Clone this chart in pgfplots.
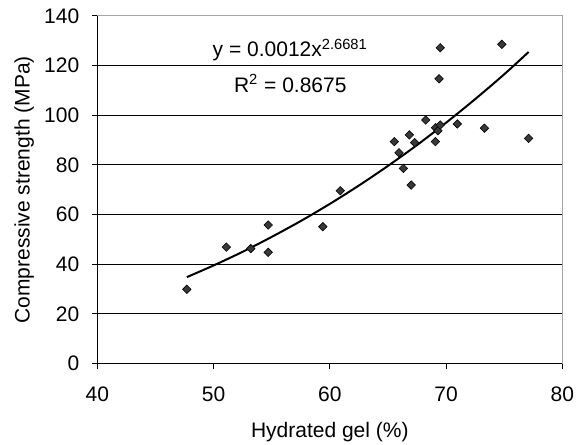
\documentclass[border=0pt]{standalone}
\usepackage{fontspec}
\setmainfont{Liberation Sans}
\usepackage{pgfplots}
\pgfplotsset{compat=1.18}
\usetikzlibrary{calc}
\newcommand{\chartfont}{\fontsize{10.5}{12.6}\selectfont}

\begin{document}
\begin{tikzpicture}
\begin{axis}[
  scale only axis,
  width=232.5pt, height=173.75pt,
  xmin=40, xmax=80, ymin=0, ymax=140,
  xtick={40,50,60,70,80},
  ytick={0,20,40,60,80,100,120,140},
  tick pos=left, tick align=outside,
  major tick length=2.5pt,
  tick style={black, line width=0.5pt},
  axis line style={gray!70, line width=0.5pt},
  ymajorgrids,
  grid style={black, line width=0.5pt},
  /pgf/number format/assume math mode=true,
  tick label style={font=\chartfont},
  xticklabel style={yshift=-5.5pt},
  yticklabel style={xshift=-3pt},
  label style={font=\chartfont},
  xlabel={Hydrated gel (\%)},
  ylabel={Compressive strength (MPa)},
  xlabel style={at={(axis description cs:0.5,-0.2115)}, anchor=base},
  ylabel style={at={(axis description cs:-0.157,0.5)}, anchor=center},
  clip=false,
]
% measured points
\addplot[only marks, mark=square*, mark size=1.5pt,
  mark options={rotate=45, fill=black!78, draw=black, line width=0.3pt}]
  coordinates {
  (47.7,29.9) (51.1,46.9) (53.2,46.3) (54.7,55.8) (54.7,44.8)
  (59.4,55.1) (60.9,69.6) (65.55,89.4) (65.95,84.9) (66.33,78.6)
  (66.84,92.1) (67.0,71.9) (67.3,89.0) (68.25,98.1) (69.08,89.4)
  (69.1,95.0) (69.3,93.8) (69.5,96.1) (69.4,114.7) (69.5,127.2)
  (70.97,96.5) (73.3,94.8) (74.8,128.6) (77.1,90.7)
};
% power trend line
\addplot[black, line width=1pt, smooth] coordinates {
  (47.7,34.8) (50,39.5) (52.5,45.0) (55,51.0) (57.5,57.4) (60,64.3)
  (62.5,71.7) (65,79.6) (67.5,88.0) (70,97.0) (72.5,106.5) (75,116.5) (77.1,125.5)
};
\draw[black, line width=0.5pt] (axis cs:40,140) -- (axis cs:40,0) -- (axis cs:80,0);
\node[anchor=base, font=\chartfont] at (axis cs:56.6,123.5) {y = 0.0012x\textsuperscript{2.6681}};
\node[anchor=base, font=\chartfont] at (axis cs:56.6,109.1) {R\textsuperscript{2} = 0.8675};
\end{axis}
\pgfresetboundingbox
\path[use as bounding box] ($(current axis.south west)+(-48.65pt,-40.25pt)$)
  rectangle ($(current axis.north east)+(8.85pt,8pt)$);
\end{tikzpicture}
\end{document}
